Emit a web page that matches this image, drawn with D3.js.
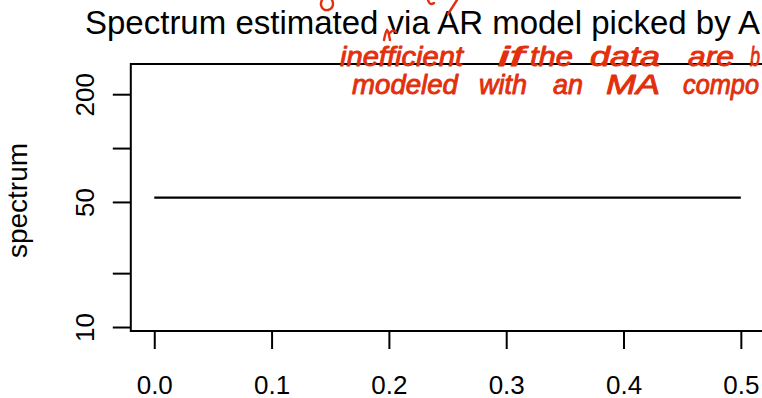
<!DOCTYPE html>
<html>
<head>
<meta charset="utf-8">
<script src="https://cdn.jsdelivr.net/npm/d3@7"></script>
<style>
  html, body { margin: 0; padding: 0; background: #fff; overflow: hidden; }
  svg { display: block; }
  text { font-family: "Liberation Sans", Arial, Helvetica, sans-serif; }
</style>
</head>
<body>
<svg id="chart" width="762" height="398"></svg>
<script>
// ---- data ----
const chartTitle = "Spectrum estimated via AR model picked by AIC";
const yLabel = "spectrum";
const frequency = [0.0, 0.1, 0.2, 0.3, 0.4, 0.5];
const spectrum  = [52.8, 52.8, 52.8, 52.8, 52.8, 52.8];
const xLim = [0, 0.5];
const xTicks = [0.0, 0.1, 0.2, 0.3, 0.4, 0.5];
const xTickLabels = ["0.0", "0.1", "0.2", "0.3", "0.4", "0.5"];
const yDomain = [9.5, 295];
const yTicks = [10, 20, 50, 100, 200];
const yTickLabels = ["10", "", "50", "", "200"];
const noteLine1 = ["inefficient", "if", "the", "data", "are", "b"];
const noteLine2 = ["modeled", "with", "an", "MA", "compo"];

// ---- layout ----
const svg = d3.select("#chart");
const plot = { left: 130.8, right: 764.3, top: 64, bottom: 331 };
const ink = "#000";
const red = "#e2300e";

const pad = (xLim[1] - xLim[0]) * 0.04;
const x = d3.scaleLinear().domain([xLim[0] - pad, xLim[1] + pad]).range([plot.left, plot.right]);
const y = d3.scaleLog().domain(yDomain).range([plot.bottom, plot.top]);

// plot box
svg.append("rect")
  .attr("x", plot.left).attr("y", plot.top)
  .attr("width", plot.right - plot.left).attr("height", plot.bottom - plot.top)
  .attr("fill", "none").attr("stroke", ink).attr("stroke-width", 2);

// x axis
const xAxis = d3.axisBottom(x).tickValues(xTicks)
  .tickFormat((d, i) => xTickLabels[i]).tickSize(18).tickPadding(27);
const gx = svg.append("g").attr("transform", `translate(0,${plot.bottom})`).call(xAxis);
gx.select(".domain").remove();
gx.selectAll("line").attr("stroke", ink).attr("stroke-width", 2);
gx.selectAll("text").attr("font-size", 26).attr("fill", ink)
  .attr("dy", null).attr("y", 62.5);

// y axis
const yAxis = d3.axisLeft(y).tickValues(yTicks)
  .tickFormat((d, i) => yTickLabels[i]).tickSize(18);
const gy = svg.append("g").attr("transform", `translate(${plot.left},0)`).call(yAxis);
gy.select(".domain").remove();
gy.selectAll("line").attr("stroke", ink).attr("stroke-width", 2);
gy.selectAll("text").attr("font-size", 26).attr("fill", ink)
  .attr("x", null).attr("dy", null)
  .attr("text-anchor", "middle")
  .attr("transform", "translate(-36.5,0) rotate(-90)");

// y label
svg.append("text")
  .attr("transform", `translate(27.4,${(plot.top + plot.bottom) / 2 + 3}) rotate(-90)`)
  .attr("text-anchor", "middle").attr("font-size", 28).attr("fill", ink)
  .text(yLabel);

// title
svg.append("text")
  .attr("x", 85).attr("y", 34)
  .attr("font-size", 33).attr("fill", ink)
  .text(chartTitle);

// spectrum line
const line = d3.line().x((d, i) => x(frequency[i])).y(d => y(d));
svg.append("path").datum(spectrum)
  .attr("d", line).attr("fill", "none").attr("stroke", ink).attr("stroke-width", 2.2);

// ---- handwritten annotation (red ink) ----
const note = svg.append("g").attr("fill", red).attr("stroke", red)
  .attr("stroke-width", 0.9).attr("stroke-linejoin", "round")
  .attr("font-family", "'DejaVu Sans', sans-serif").attr("font-style", "italic");
const l1 = [[340, 123], [498, 26], [530, 43], [590, 70], [688, 46], [750, 10]];
const l2 = [[352, 106], [479, 48], [553, 30], [606, 54], [683, 76]];
noteLine1.forEach((w, i) => {
  note.append("text").attr("x", l1[i][0]).attr("y", 66).attr("font-size", 27)
    .attr("textLength", l1[i][1]).attr("lengthAdjust", "spacingAndGlyphs").text(w);
});
noteLine2.forEach((w, i) => {
  note.append("text").attr("x", l2[i][0]).attr("y", 94).attr("font-size", 27)
    .attr("textLength", l2[i][1]).attr("lengthAdjust", "spacingAndGlyphs").text(w);
});
// stray pen strokes from the line above
const strokes = svg.append("g").attr("fill", "none").attr("stroke", red)
  .attr("stroke-width", 2.4).attr("stroke-linecap", "round");
strokes.append("path").attr("d", "M322,0 C319,6 323,11 328,10 C333,9 334,4 332,0");
strokes.append("path").attr("d", "M428,0 C429,4 431,5 434,3");
strokes.append("path").attr("d", "M457,0 L448,14");
strokes.append("path").attr("d", "M384,40 C385,35 386,31 387,30 C389,32 389,36 390,40 M390,33 C392,30 394,30 396,32");
</script>
</body>
</html>
